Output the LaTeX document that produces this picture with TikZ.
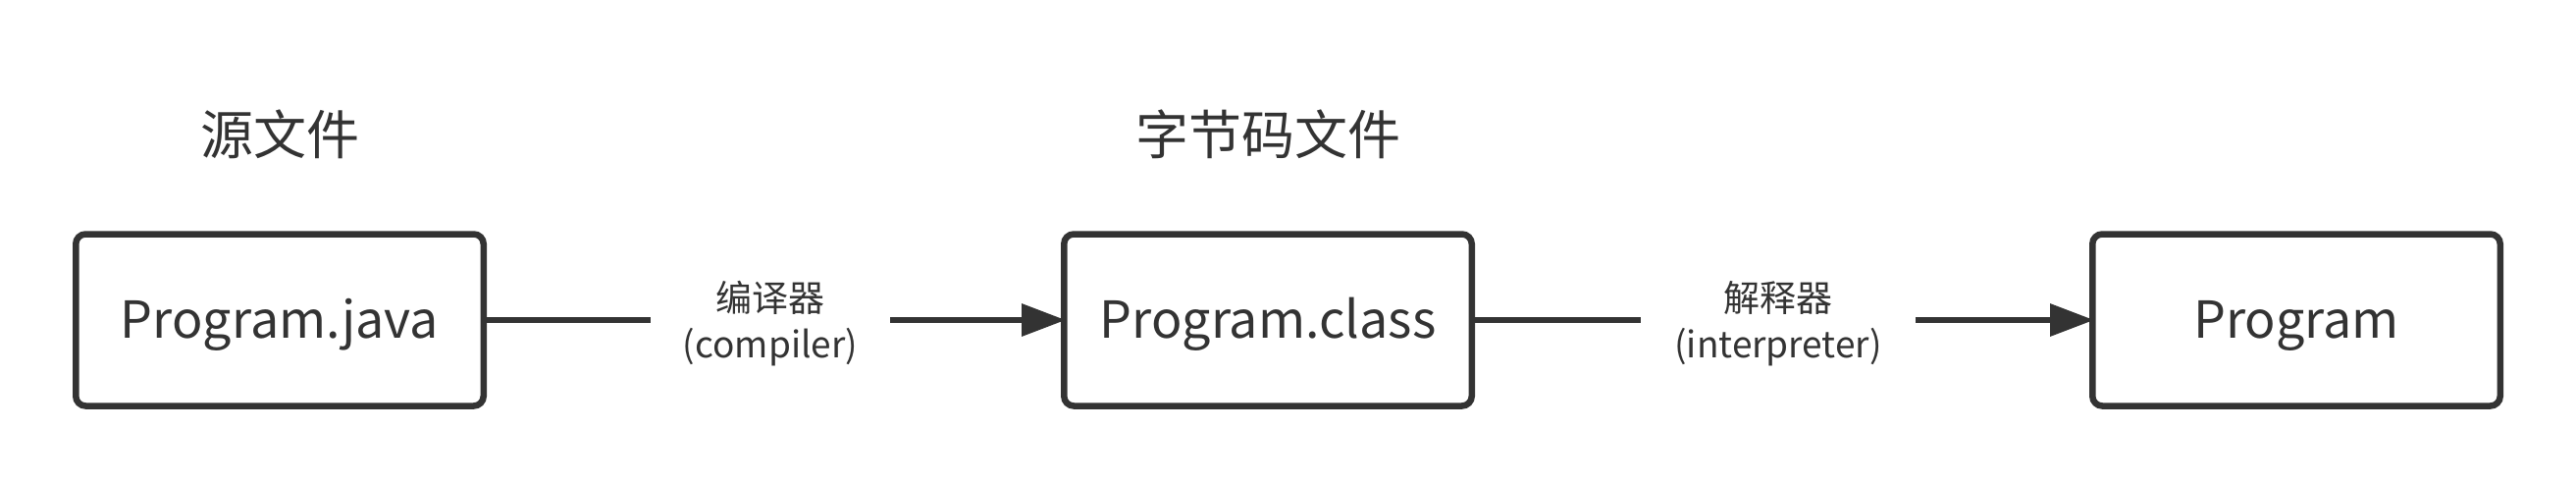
\documentclass[tikz,border=0pt]{standalone}
\usepackage{fontspec}
\setmainfont{Noto Sans CJK SC}
\usetikzlibrary{arrows.meta}
\definecolor{ink}{HTML}{333333}
\begin{document}
\begin{tikzpicture}[x=1pt,y=-1pt,
  filebox/.style={draw=ink, line width=6.5pt, rounded corners=10pt, minimum width=415.5pt, minimum height=175pt, inner sep=0pt, text=ink, text height=37pt, text depth=0pt, font=\fontsize{52}{60}\selectfont},
  title/.style={text=ink, inner sep=0pt, font=\fontsize{54}{60}\selectfont},
  lab/.style={text=ink, inner sep=0pt, outer sep=0pt, align=center, font=\fontsize{37}{47}\selectfont},
  conn/.style={draw=ink, line width=6.5pt},
  arr/.style={conn, shorten >=-5pt, -{Triangle[length=45pt,width=32pt]}}
]
\useasboundingbox (0,0) rectangle (2625,492);
\node[filebox] (b1) at (285,326) {Program.java};
\node[filebox] (b2) at (1292,326) {Program.class};
\node[filebox] (b3) at (2340,326) {Program};
\node[title] (t1) at (285,137) {源文件};
\node[title] (t2) at (1292,137) {字节码文件};
\node[lab, minimum width=244pt] (l1) at (785,330) {编译器\\(compiler)};
\node[lab, minimum width=280pt] (l2) at (1812,330) {解释器\\(interpreter)};
\draw[conn] (b1.east) -- (b1.east -| l1.west);
\draw[arr] (b2.west -| l1.east) -- (b2.west);
\draw[conn] (b2.east) -- (b2.east -| l2.west);
\draw[arr] (b3.west -| l2.east) -- (b3.west);
\end{tikzpicture}
\end{document}
